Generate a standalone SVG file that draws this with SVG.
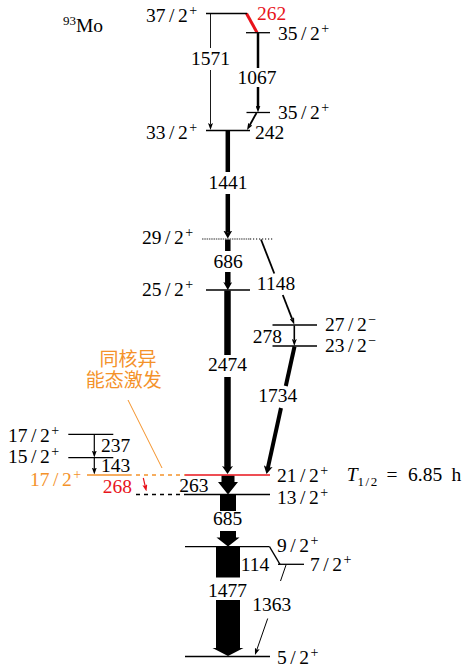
<svg xmlns="http://www.w3.org/2000/svg" width="465" height="671" viewBox="0 0 465 671" font-family="Liberation Serif, DejaVu Serif, serif">
<style>
text{font-family:'Liberation Serif','DejaVu Serif',serif;font-size:19.5px;fill:#000}
.sp{font-size:14px}
.mid{text-anchor:middle}
.lv{stroke:#000;stroke-width:1.3;fill:none}
.ln{stroke:#000;fill:none;stroke-linecap:butt}
.red{fill:#e8131b}
.org{fill:#f4922a}
.cjk{font-family:'Noto Sans CJK SC','Noto Sans CJK JP',sans-serif;font-size:19px}
</style>
<defs>
<marker id="a1" viewBox="0 0 7 5" refX="1.5" refY="2.5" markerWidth="7" markerHeight="5" markerUnits="userSpaceOnUse" orient="auto"><path d="M0,0 L7,2.5 L0,5 L1.5,2.5 z" fill="#000"/></marker>
<marker id="a1r" viewBox="0 0 7 5" refX="1.5" refY="2.5" markerWidth="7" markerHeight="5" markerUnits="userSpaceOnUse" orient="auto"><path d="M0,0 L7,2.5 L0,5 L1.5,2.5 z" fill="#e8131b"/></marker>
<marker id="a2" viewBox="0 0 8 9" refX="2" refY="4.5" markerWidth="8" markerHeight="9" markerUnits="userSpaceOnUse" orient="auto"><path d="M0,0 L8,4.5 L0,9 L2,4.5 z" fill="#000"/></marker>
<marker id="a3" viewBox="0 0 8 11" refX="2" refY="5.5" markerWidth="8" markerHeight="11" markerUnits="userSpaceOnUse" orient="auto"><path d="M0,0 L8,5.5 L0,11 L2,5.5 z" fill="#000"/></marker>
</defs>
<rect width="465" height="671" fill="#fff"/>

<g id="title">
<text x="63" y="31.5"><tspan font-size="13" dy="-7">93</tspan><tspan dy="7">Mo</tspan></text>
</g>

<g id="connectors">
<!-- 1571 -->
<line class="ln" x1="210.5" y1="13.5" x2="210.5" y2="48" stroke-width="0.9"/>
<line class="ln" x1="210.5" y1="70" x2="210.5" y2="124.5" stroke-width="0.9" marker-end="url(#a1)"/>
<text class="mid" x="210.5" y="65">1571</text>
<!-- 262 -->
<line x1="246.5" y1="13.5" x2="257" y2="32.5" stroke="#e8131b" stroke-width="3"/>
<text class="red" x="257" y="20">262</text>
<!-- 1067 -->
<line class="ln" x1="258" y1="33" x2="258" y2="68" stroke-width="2.5"/>
<line class="ln" x1="258" y1="87" x2="258" y2="107" stroke-width="2.5" marker-end="url(#a1)"/>
<text class="mid" x="257" y="84">1067</text>
<!-- 242 -->
<line class="ln" x1="256.5" y1="113" x2="249.7" y2="125.2" stroke-width="1.8" marker-end="url(#a1)"/>
<text x="255" y="138.5">242</text>
<!-- 1441 -->
<line class="ln" x1="227.8" y1="131" x2="227.8" y2="172" stroke-width="4.5"/>
<line class="ln" x1="227.8" y1="194" x2="227.8" y2="232.5" stroke-width="4.5" marker-end="url(#a2)"/>
<text class="mid" x="228" y="189">1441</text>
<!-- 686 -->
<line class="ln" x1="227.8" y1="239.5" x2="227.8" y2="251" stroke-width="5.5"/>
<line class="ln" x1="227.8" y1="272" x2="227.8" y2="284" stroke-width="5.5" marker-end="url(#a2)"/>
<text class="mid" x="228" y="268">686</text>
<!-- 1148 -->
<line class="ln" x1="261" y1="239.5" x2="274.3" y2="273.5" stroke-width="1.8"/>
<line class="ln" x1="282.8" y1="295" x2="292.3" y2="319.4" stroke-width="1.8" marker-end="url(#a1)"/>
<text class="mid" x="276" y="290">1148</text>
<!-- 278 -->
<line class="ln" x1="294.3" y1="325.5" x2="294.3" y2="340.5" stroke-width="1.6" marker-end="url(#a1)"/>
<text x="252.7" y="343">278</text>
<!-- 2474 -->
<line class="ln" x1="227.5" y1="290.5" x2="227.5" y2="355" stroke-width="6.5"/>
<line class="ln" x1="227.5" y1="377" x2="227.5" y2="468" stroke-width="6.5" marker-end="url(#a3)"/>
<text class="mid" x="227.5" y="371">2474</text>
<!-- 1734 -->
<line class="ln" x1="294.5" y1="346.5" x2="285.8" y2="386" stroke-width="4"/>
<line class="ln" x1="281" y1="408" x2="267.8" y2="468.1" stroke-width="4" marker-end="url(#a2)"/>
<text class="mid" x="277.7" y="402">1734</text>
<!-- 237 -->
<line class="ln" x1="94.3" y1="434.5" x2="94.3" y2="452" stroke-width="1.2" marker-end="url(#a1)"/>
<text x="101" y="451.5">237</text>
<!-- 143 -->
<line class="ln" x1="94.3" y1="458" x2="94.3" y2="469" stroke-width="1.2" marker-end="url(#a1)"/>
<text x="101" y="472">143</text>
<!-- 268 -->
<line x1="143.3" y1="478" x2="145.2" y2="486.1" stroke="#e8131b" stroke-width="1.2" marker-end="url(#a1r)"/>
<text class="red" x="102.7" y="493">268</text>
<!-- 263 -->
<polygon points="221.5,475.5 234.5,475.5 234.5,482 238,482 228,494.5 218,482 221.5,482" fill="#000"/>
<text x="179.3" y="491.5">263</text>
<!-- 685 -->
<rect x="220" y="494.5" width="16" height="16.5" fill="#000"/>
<polygon points="220,531 236,531 236,537.5 239.5,537.5 228,546.5 216.5,537.5 220,537.5" fill="#000"/>
<text class="mid" x="227.7" y="525">685</text>
<!-- 114 -->
<line class="ln" x1="269.5" y1="546.7" x2="280" y2="564.3" stroke-width="1.3"/>
<text x="240.7" y="570.7">114</text>
<!-- 1477 -->
<rect x="216" y="546.7" width="24" height="30.8" fill="#000"/>
<polygon points="216,600 240,600 240,648 243.5,648 228,656 212.5,648 216,648" fill="#000"/>
<text class="mid" x="227.5" y="596.7">1477</text>
<!-- 1363 -->
<line class="ln" x1="286" y1="565" x2="280.5" y2="581" stroke-width="1"/>
<line class="ln" x1="267.7" y1="618.5" x2="256.8" y2="649.8" stroke-width="1" marker-end="url(#a1)"/>
<text class="mid" x="271.7" y="610.7">1363</text>
<!-- isomer pointer -->
<line x1="128" y1="400" x2="162" y2="468" stroke="#f4922a" stroke-width="1"/>
</g>

<g id="L37_2">
<line class="lv" x1="206" y1="13.5" x2="247" y2="13.5"/>
<text x="146" y="21.5">37<tspan dx="3.5">/</tspan><tspan dx="3.5">2</tspan><tspan class="sp" dx="1.5" dy="-7">+</tspan></text>
</g>
<g id="L35_2a">
<line class="lv" x1="246" y1="32.7" x2="270" y2="32.7"/>
<text x="278" y="40">35<tspan dx="3.5">/</tspan><tspan dx="3.5">2</tspan><tspan class="sp" dx="1.5" dy="-7">+</tspan></text>
</g>
<g id="L35_2b">
<line class="lv" x1="246.5" y1="112.5" x2="270" y2="112.5"/>
<text x="278" y="119">35<tspan dx="3.5">/</tspan><tspan dx="3.5">2</tspan><tspan class="sp" dx="1.5" dy="-7">+</tspan></text>
</g>
<g id="L33_2">
<line class="lv" x1="206" y1="130.5" x2="250" y2="130.5"/>
<text x="146" y="138.5">33<tspan dx="3.5">/</tspan><tspan dx="3.5">2</tspan><tspan class="sp" dx="1.5" dy="-7">+</tspan></text>
</g>
<g id="L29_2">
<line x1="202" y1="239" x2="250" y2="239" stroke="#333" stroke-width="1.1" stroke-dasharray="1.5,0.8"/>
<line x1="250" y1="239" x2="273" y2="239" stroke="#000" stroke-width="1.1" stroke-dasharray="1.2,1.8"/>
<text x="142" y="244">29<tspan dx="3.5">/</tspan><tspan dx="3.5">2</tspan><tspan class="sp" dx="1.5" dy="-7">+</tspan></text>
</g>
<g id="L25_2">
<line class="lv" x1="206" y1="290" x2="250" y2="290"/>
<text x="142" y="296">25<tspan dx="3.5">/</tspan><tspan dx="3.5">2</tspan><tspan class="sp" dx="1.5" dy="-7">+</tspan></text>
</g>
<g id="L27_2m">
<line class="lv" x1="272.5" y1="325" x2="317" y2="325"/>
<text x="325" y="331">27<tspan dx="3.5">/</tspan><tspan dx="3.5">2</tspan><tspan class="sp" dx="1.5" dy="-7">−</tspan></text>
</g>
<g id="L23_2m">
<line class="lv" x1="272.5" y1="346" x2="317" y2="346"/>
<text x="325" y="352">23<tspan dx="3.5">/</tspan><tspan dx="3.5">2</tspan><tspan class="sp" dx="1.5" dy="-7">−</tspan></text>
</g>
<g id="L21_2">
<line x1="185" y1="475" x2="270" y2="475" stroke="#e8131b" stroke-width="1.3"/>
<text x="277" y="482">21<tspan dx="3.5">/</tspan><tspan dx="3.5">2</tspan><tspan class="sp" dx="1.5" dy="-7">+</tspan></text>
<text x="346.7" y="481"><tspan font-style="italic">T</tspan><tspan font-size="13" dy="4.5">1<tspan dx="1.5">/</tspan><tspan dx="1.5">2</tspan></tspan><tspan x="386.5" dy="-4.5">=</tspan><tspan x="408">6.85</tspan><tspan x="451.5">h</tspan></text>
</g>
<g id="L17_2a">
<line class="lv" x1="68.3" y1="434.3" x2="113.3" y2="434.3"/>
<text x="8" y="441.5">17<tspan dx="3.5">/</tspan><tspan dx="3.5">2</tspan><tspan class="sp" dx="1.5" dy="-7">+</tspan></text>
</g>
<g id="L15_2">
<line class="lv" x1="68.3" y1="457.7" x2="113.3" y2="457.7"/>
<text x="8" y="463.3">15<tspan dx="3.5">/</tspan><tspan dx="3.5">2</tspan><tspan class="sp" dx="1.5" dy="-7">+</tspan></text>
</g>
<g id="L17_2iso">
<line x1="87" y1="475" x2="131.7" y2="475" stroke="#f4922a" stroke-width="1.3"/>
<line x1="136" y1="475" x2="185" y2="475" stroke="#f4922a" stroke-width="1.3" stroke-dasharray="4,4"/>
<line x1="136" y1="494.5" x2="185" y2="494.5" stroke="#000" stroke-width="1.3" stroke-dasharray="4,4"/>
<text class="org" x="30" y="485.5">17<tspan dx="3.5">/</tspan><tspan dx="3.5">2</tspan><tspan class="sp" dx="1.5" dy="-7">+</tspan></text>
<text class="cjk org mid" x="128" y="366">同核异<tspan x="123.7" dy="21">能态激发</tspan></text>
</g>
<g id="L13_2">
<line class="lv" x1="185" y1="494.5" x2="270" y2="494.5"/>
<text x="277" y="504">13<tspan dx="3.5">/</tspan><tspan dx="3.5">2</tspan><tspan class="sp" dx="1.5" dy="-7">+</tspan></text>
</g>
<g id="L9_2">
<line class="lv" x1="185" y1="546.7" x2="269.5" y2="546.7"/>
<text x="277" y="551.5">9<tspan dx="3.5">/</tspan><tspan dx="3.5">2</tspan><tspan class="sp" dx="1.5" dy="-7">+</tspan></text>
</g>
<g id="L7_2">
<line class="lv" x1="278" y1="564.3" x2="304" y2="564.3"/>
<text x="310" y="571">7<tspan dx="3.5">/</tspan><tspan dx="3.5">2</tspan><tspan class="sp" dx="1.5" dy="-7">+</tspan></text>
</g>
<g id="L5_2">
<line class="lv" x1="185" y1="656.5" x2="270" y2="656.5"/>
<text x="277" y="664">5<tspan dx="3.5">/</tspan><tspan dx="3.5">2</tspan><tspan class="sp" dx="1.5" dy="-7">+</tspan></text>
</g>
</svg>
